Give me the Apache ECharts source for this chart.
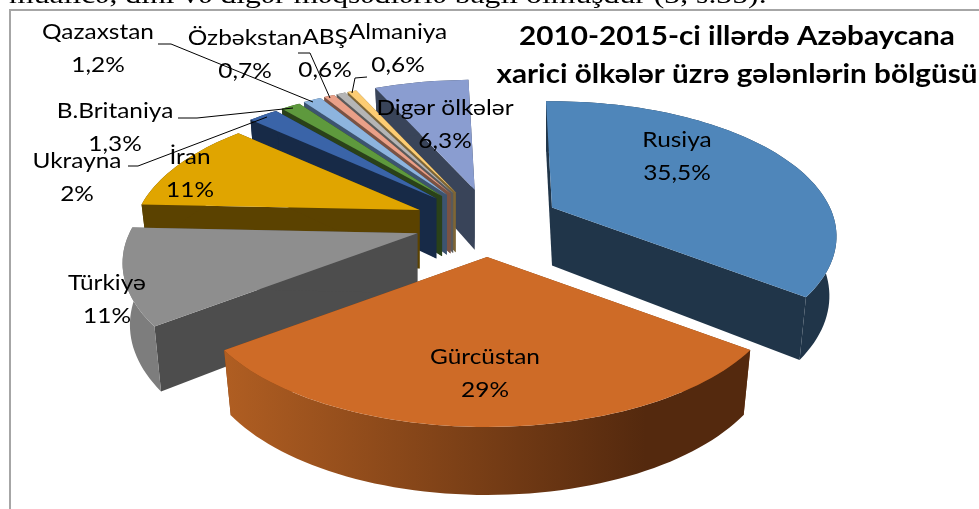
<!DOCTYPE html>
<html>
<head>
<meta charset="utf-8">
<style>
  html, body { margin: 0; padding: 0; background: #fff; }
  #chart { width: 979px; height: 509px; }
</style>
<script src="https://cdn.jsdelivr.net/npm/echarts@6/dist/echarts.min.js"></script>
</head>
<body>
<div id="chart"></div>
<script>
const categories = ['Rusiya', 'Gürcüstan', 'Türkiyə', 'İran', 'Ukrayna', 'B.Britaniya', 'Qazaxstan', 'Özbəkstan', 'ABŞ', 'Almaniya', 'Digər ölkələr'];
const shares = [35.5, 29, 11, 11, 2, 1.3, 1.2, 0.7, 0.6, 0.6, 6.3];

const topColors = ['#4f86ba', '#ce6b27', '#8e8e8e', '#e0a500', '#3a64a8', '#5e993d', '#8db4de', '#eaa088', '#b5b5b5', '#fdcd73', '#8a9dd0'];
const sideColors = ['#203549', '#7a3f14', '#4d4d4d', '#5b4200', '#172a47', '#2a4119', '#3d5470', '#7a5243', '#5a5a5a', '#7f6635', '#394459'];
const rimColors = ['#203549', null, '#7d7d7d', '#5b4200', '#172a47', '#2a4119', '#3d5470', '#7a5243', '#5a5a5a', '#7f6635', '#394459'];

// kesiklerin cizim sirasi: arkadan one
const paintOrder = [10, 9, 8, 7, 6, 5, 4, 3, 2, 0, 1];

// etiket merkezleri (ad satiri)
const labelX = [677, 485, 107, 190, 77, 115, 98, 245, 325, 398, 445];
const labelY = [140, 357, 283, 157, 161, 111, 32, 38, 37, 32, 108];

const leaderLines = [
  [[158, 44], [171, 44], [313, 102]],
  [[298, 53], [310, 53], [330, 98]],
  [[367, 77], [355, 78], [352, 93]],
  [[178, 118], [197, 118], [293, 108]],
  [[128, 166], [138, 166], [267, 117]]
];

const centerX = 487, centerY = 223;
const explodeX = 73, explodeY = 34;
const radiusX = 288, radiusY = 133.6, perspective = 0.214;
const depthBase = 60, depthFront = 8;
const startAngle = -1.5 * Math.PI / 180;
// arkadaki dilimler perspektifte biraz kuculuyor
const sliceScale = [0.965, 1, 1, 0.975, 1, 1, 1, 1, 1, 1, 1];
const sliceShiftX = [0, 0, 0, 0, 0, 0, 0, 0, 0, 0, 4];
const LABEL_FONT = 'Lato, "Noto Sans", sans-serif';
const TEXT_STRETCH = 1.11;

const total = shares.reduce((a, b) => a + b, 0);
const angles = [];
let acc = 0;
shares.forEach(v => {
  const start = startAngle + acc / total * Math.PI * 2;
  acc += v;
  angles.push([start, startAngle + acc / total * Math.PI * 2]);
});

function rimPoint(apex, a, bottom, scale) {
  const u = Math.sin(a), v = -Math.cos(a);
  const w = scale / (1 - perspective * v);
  const sx = u * radiusX * w, sy = v * radiusY * w;
  if (!bottom) return [apex[0] + sx, apex[1] + sy];
  return [apex[0] + sx * 0.975, apex[1] + sy + (depthBase + depthFront * v) * scale];
}

function sampleRim(apex, a0, a1, bottom, scale) {
  const n = Math.max(2, Math.ceil((a1 - a0) / 0.03));
  const pts = [];
  for (let i = 0; i <= n; i++) pts.push(rimPoint(apex, a0 + (a1 - a0) * i / n, bottom, scale));
  return pts;
}

function drawSlice(params, api) {
  const idx = api.value(0);
  const [a0, a1] = angles[idx];
  const mid = (a0 + a1) / 2;
  const apex = [centerX + explodeX * Math.sin(mid) + sliceShiftX[idx], centerY - explodeY * Math.cos(mid)];
  const apexLow = [apex[0], apex[1] + depthBase * sliceScale[idx]];
  const topArc = sampleRim(apex, a0, a1, false, sliceScale[idx]);
  const lowArc = sampleRim(apex, a0, a1, true, sliceScale[idx]);
  const poly = (points, fill) => ({ type: 'polygon', shape: { points }, style: { fill } });
  const rimFill = rimColors[idx] || {
    type: 'linear', x: 0, y: 0, x2: 1, y2: 0,
    colorStops: [{ offset: 0, color: '#b05e22' }, { offset: 0.8, color: '#54290e' }, { offset: 1, color: '#54290e' }]
  };
  const children = [
    poly([apex, topArc[0], lowArc[0], apexLow], sideColors[idx]),
    poly([apex, topArc[topArc.length - 1], lowArc[lowArc.length - 1], apexLow], sideColors[idx]),
    poly(topArc.concat(lowArc.slice().reverse()), rimFill),
    poly([apex].concat(topArc), topColors[idx])
  ];
  return { type: 'group', children };
}

function drawLabels(params, api) {
  const idx = api.value(0);
  const pct = String(shares[idx]).replace('.', ',') + '%';
  const text = (t, y) => ({
    type: 'text', x: labelX[idx], y, scaleX: TEXT_STRETCH,
    style: { text: t, x: 0, y: 0, align: 'center', verticalAlign: 'middle', fill: '#000', font: '22px ' + LABEL_FONT }
  });
  return { type: 'group', children: [text(categories[idx], labelY[idx]), text(pct, labelY[idx] + 32.5)] };
}

function drawLeader(params, api) {
  return { type: 'polyline', shape: { points: leaderLines[api.value(0)] }, style: { fill: null, stroke: '#000', lineWidth: 1 } };
}

const chart = echarts.init(document.getElementById('chart'), null, { renderer: 'canvas' });
chart.setOption({
  animation: false,
  backgroundColor: '#fff',
  graphic: [
    { type: 'rect', silent: true, shape: { x: 10, y: 10, width: 990, height: 520 }, style: { fill: null, stroke: '#a6a6a6', lineWidth: 2 } },
    { type: 'text', silent: true, x: 9, y: 9, scaleX: 1.22, style: { text: 'müalicə, dini və digər məqsədlərlə bağlı olmuşdur (3, s.35).', x: 0, y: 0, verticalAlign: 'bottom', fill: '#000', font: '26px "Liberation Serif", serif' } },
    { type: 'text', silent: true, x: 737, y: 55, scaleX: 1.1, z: 10, style: { text: '2010-2015-ci illərdə Azəbaycana\nxarici ölkələr üzrə gələnlərin bölgüsü', x: 0, y: 0, align: 'center', verticalAlign: 'middle', lineHeight: 38, fill: '#000', font: 'bold 27px ' + LABEL_FONT } }
  ],
  series: [
    { type: 'custom', coordinateSystem: 'none', silent: true, data: paintOrder.map(i => [i]), renderItem: drawSlice, z: 2 },
    { type: 'custom', coordinateSystem: 'none', silent: true, data: leaderLines.map((l, i) => [i]), renderItem: drawLeader, z: 3 },
    { type: 'custom', coordinateSystem: 'none', silent: true, data: categories.map((c, i) => [i]), renderItem: drawLabels, z: 4 }
  ]
});
</script>
</body>
</html>
